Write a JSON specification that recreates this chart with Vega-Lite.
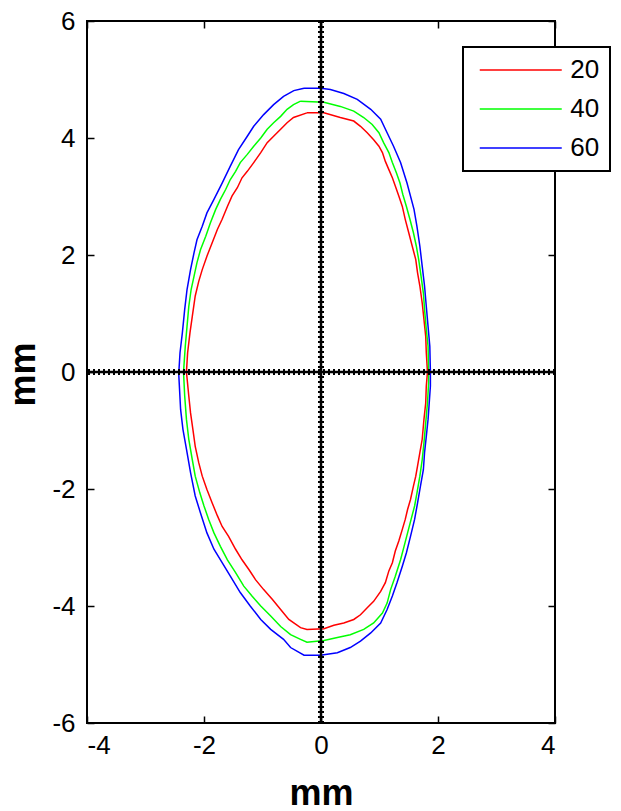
{
  "$schema": "https://vega.github.io/schema/vega-lite/v6.json",
  "width": 468,
  "height": 702,
  "autosize": {"type": "none"},
  "padding": {"left": 87, "top": 21, "right": 66, "bottom": 88},
  "background": "white",
  "config": {
    "view": {"stroke": "black", "strokeWidth": 2},
    "legend": {"strokeWidth": 2},
    "axis": {
      "grid": false,
      "domain": false,
      "tickColor": "black",
      "tickWidth": 1.5,
      "tickSize": -7,
      "labelColor": "black",
      "labelFont": "'Liberation Sans Narrow', 'Liberation Sans'",
      "labelFontSize": 26,
      "titleFont": "Liberation Sans",
      "titleFontWeight": "bold",
      "titleFontSize": 36,
      "titleColor": "black"
    }
  },
  "resolve": {"axis": {"x": "independent", "y": "independent"}},
  "layer": [
    {
      "data": {
        "values": [
          {"s":"20","i":1,"x":-0.24,"y":4.43},{"s":"20","i":2,"x":0.05,"y":4.43},{"s":"20","i":3,"x":0.33,"y":4.35},{"s":"20","i":4,"x":0.56,"y":4.29},{"s":"20","i":5,"x":0.675,"y":4.2},{"s":"20","i":6,"x":0.79,"y":4.09},{"s":"20","i":7,"x":0.9,"y":3.97},{"s":"20","i":8,"x":0.99,"y":3.86},{"s":"20","i":9,"x":1.05,"y":3.75},{"s":"20","i":10,"x":1.1,"y":3.6},{"s":"20","i":11,"x":1.16,"y":3.46},{"s":"20","i":12,"x":1.22,"y":3.32},{"s":"20","i":13,"x":1.27,"y":3.18},{"s":"20","i":14,"x":1.33,"y":3.01},{"s":"20","i":15,"x":1.39,"y":2.83},{"s":"20","i":16,"x":1.44,"y":2.61},{"s":"20","i":17,"x":1.5,"y":2.38},{"s":"20","i":18,"x":1.56,"y":2.15},{"s":"20","i":19,"x":1.62,"y":1.92},{"s":"20","i":20,"x":1.65,"y":1.7},{"s":"20","i":21,"x":1.69,"y":1.47},{"s":"20","i":22,"x":1.73,"y":1.18},{"s":"20","i":23,"x":1.76,"y":0.9},{"s":"20","i":24,"x":1.79,"y":0.61},{"s":"20","i":25,"x":1.8,"y":0.33},{"s":"20","i":26,"x":1.82,"y":0},{"s":"20","i":27,"x":1.8,"y":-0.24},{"s":"20","i":28,"x":1.79,"y":-0.53},{"s":"20","i":29,"x":1.76,"y":-0.81},{"s":"20","i":30,"x":1.73,"y":-1.15},{"s":"20","i":31,"x":1.69,"y":-1.38},{"s":"20","i":32,"x":1.65,"y":-1.61},{"s":"20","i":33,"x":1.62,"y":-1.78},{"s":"20","i":34,"x":1.58,"y":-1.95},{"s":"20","i":35,"x":1.53,"y":-2.18},{"s":"20","i":36,"x":1.48,"y":-2.35},{"s":"20","i":37,"x":1.44,"y":-2.52},{"s":"20","i":38,"x":1.39,"y":-2.69},{"s":"20","i":39,"x":1.33,"y":-2.89},{"s":"20","i":40,"x":1.27,"y":-3.06},{"s":"20","i":41,"x":1.22,"y":-3.26},{"s":"20","i":42,"x":1.16,"y":-3.4},{"s":"20","i":43,"x":1.1,"y":-3.6},{"s":"20","i":44,"x":1.02,"y":-3.75},{"s":"20","i":45,"x":0.9,"y":-3.92},{"s":"20","i":46,"x":0.79,"y":-4.03},{"s":"20","i":47,"x":0.675,"y":-4.15},{"s":"20","i":48,"x":0.56,"y":-4.23},{"s":"20","i":49,"x":0.39,"y":-4.29},{"s":"20","i":50,"x":0.22,"y":-4.33},{"s":"20","i":51,"x":0.05,"y":-4.39},{"s":"20","i":52,"x":-0.24,"y":-4.4},{"s":"20","i":53,"x":-0.35,"y":-4.37},{"s":"20","i":54,"x":-0.55,"y":-4.23},{"s":"20","i":55,"x":-0.69,"y":-4.06},{"s":"20","i":56,"x":-0.83,"y":-3.89},{"s":"20","i":57,"x":-0.98,"y":-3.72},{"s":"20","i":58,"x":-1.12,"y":-3.55},{"s":"20","i":59,"x":-1.23,"y":-3.38},{"s":"20","i":60,"x":-1.35,"y":-3.21},{"s":"20","i":61,"x":-1.46,"y":-3.03},{"s":"20","i":62,"x":-1.58,"y":-2.81},{"s":"20","i":63,"x":-1.69,"y":-2.64},{"s":"20","i":64,"x":-1.77,"y":-2.46},{"s":"20","i":65,"x":-1.86,"y":-2.24},{"s":"20","i":66,"x":-1.95,"y":-2.01},{"s":"20","i":67,"x":-2.03,"y":-1.78},{"s":"20","i":68,"x":-2.09,"y":-1.55},{"s":"20","i":69,"x":-2.15,"y":-1.27},{"s":"20","i":70,"x":-2.19,"y":-0.98},{"s":"20","i":71,"x":-2.23,"y":-0.7},{"s":"20","i":72,"x":-2.26,"y":-0.41},{"s":"20","i":73,"x":-2.3,"y":0},{"s":"20","i":74,"x":-2.28,"y":0.33},{"s":"20","i":75,"x":-2.24,"y":0.67},{"s":"20","i":76,"x":-2.2,"y":0.95},{"s":"20","i":77,"x":-2.15,"y":1.3},{"s":"20","i":78,"x":-2.09,"y":1.55},{"s":"20","i":79,"x":-2.03,"y":1.75},{"s":"20","i":80,"x":-1.95,"y":1.98},{"s":"20","i":81,"x":-1.86,"y":2.21},{"s":"20","i":82,"x":-1.77,"y":2.44},{"s":"20","i":83,"x":-1.69,"y":2.61},{"s":"20","i":84,"x":-1.6,"y":2.83},{"s":"20","i":85,"x":-1.52,"y":3.01},{"s":"20","i":86,"x":-1.43,"y":3.15},{"s":"20","i":87,"x":-1.35,"y":3.32},{"s":"20","i":88,"x":-1.26,"y":3.43},{"s":"20","i":89,"x":-1.15,"y":3.58},{"s":"20","i":90,"x":-1.03,"y":3.75},{"s":"20","i":91,"x":-0.92,"y":3.92},{"s":"20","i":92,"x":-0.81,"y":4.03},{"s":"20","i":93,"x":-0.69,"y":4.15},{"s":"20","i":94,"x":-0.58,"y":4.26},{"s":"20","i":95,"x":-0.47,"y":4.35},{"s":"20","i":96,"x":-0.24,"y":4.43},

          {"s":"40","i":1,"x":-0.35,"y":4.63},{"s":"40","i":2,"x":0.05,"y":4.61},{"s":"40","i":3,"x":0.33,"y":4.54},{"s":"40","i":4,"x":0.56,"y":4.46},{"s":"40","i":5,"x":0.73,"y":4.35},{"s":"40","i":6,"x":0.875,"y":4.23},{"s":"40","i":7,"x":0.99,"y":4.09},{"s":"40","i":8,"x":1.07,"y":3.92},{"s":"40","i":9,"x":1.16,"y":3.75},{"s":"40","i":10,"x":1.22,"y":3.58},{"s":"40","i":11,"x":1.29,"y":3.4},{"s":"40","i":12,"x":1.35,"y":3.23},{"s":"40","i":13,"x":1.4,"y":3.03},{"s":"40","i":14,"x":1.46,"y":2.83},{"s":"40","i":15,"x":1.52,"y":2.61},{"s":"40","i":16,"x":1.58,"y":2.38},{"s":"40","i":17,"x":1.63,"y":2.15},{"s":"40","i":18,"x":1.67,"y":1.92},{"s":"40","i":19,"x":1.71,"y":1.64},{"s":"40","i":20,"x":1.75,"y":1.35},{"s":"40","i":21,"x":1.77,"y":1.07},{"s":"40","i":22,"x":1.8,"y":0.73},{"s":"40","i":23,"x":1.83,"y":0.44},{"s":"40","i":24,"x":1.84,"y":0},{"s":"40","i":25,"x":1.84,"y":-0.18},{"s":"40","i":26,"x":1.82,"y":-0.53},{"s":"40","i":27,"x":1.79,"y":-0.87},{"s":"40","i":28,"x":1.76,"y":-1.21},{"s":"40","i":29,"x":1.73,"y":-1.5},{"s":"40","i":30,"x":1.69,"y":-1.78},{"s":"40","i":31,"x":1.64,"y":-2.07},{"s":"40","i":32,"x":1.6,"y":-2.29},{"s":"40","i":33,"x":1.54,"y":-2.52},{"s":"40","i":34,"x":1.48,"y":-2.75},{"s":"40","i":35,"x":1.42,"y":-2.98},{"s":"40","i":36,"x":1.36,"y":-3.21},{"s":"40","i":37,"x":1.27,"y":-3.49},{"s":"40","i":38,"x":1.19,"y":-3.72},{"s":"40","i":39,"x":1.13,"y":-3.95},{"s":"40","i":40,"x":1.05,"y":-4.12},{"s":"40","i":41,"x":0.9,"y":-4.29},{"s":"40","i":42,"x":0.73,"y":-4.4},{"s":"40","i":43,"x":0.5,"y":-4.49},{"s":"40","i":44,"x":0.28,"y":-4.54},{"s":"40","i":45,"x":0.05,"y":-4.59},{"s":"40","i":46,"x":-0.24,"y":-4.62},{"s":"40","i":47,"x":-0.35,"y":-4.57},{"s":"40","i":48,"x":-0.52,"y":-4.49},{"s":"40","i":49,"x":-0.69,"y":-4.35},{"s":"40","i":50,"x":-0.86,"y":-4.17},{"s":"40","i":51,"x":-1.03,"y":-4.0},{"s":"40","i":52,"x":-1.18,"y":-3.83},{"s":"40","i":53,"x":-1.32,"y":-3.66},{"s":"40","i":54,"x":-1.46,"y":-3.43},{"s":"40","i":55,"x":-1.6,"y":-3.21},{"s":"40","i":56,"x":-1.72,"y":-2.98},{"s":"40","i":57,"x":-1.83,"y":-2.75},{"s":"40","i":58,"x":-1.92,"y":-2.52},{"s":"40","i":59,"x":-2.0,"y":-2.29},{"s":"40","i":60,"x":-2.07,"y":-2.07},{"s":"40","i":61,"x":-2.15,"y":-1.78},{"s":"40","i":62,"x":-2.2,"y":-1.5},{"s":"40","i":63,"x":-2.26,"y":-1.15},{"s":"40","i":64,"x":-2.3,"y":-0.81},{"s":"40","i":65,"x":-2.33,"y":-0.41},{"s":"40","i":66,"x":-2.35,"y":0},{"s":"40","i":67,"x":-2.32,"y":0.44},{"s":"40","i":68,"x":-2.29,"y":0.78},{"s":"40","i":69,"x":-2.26,"y":1.12},{"s":"40","i":70,"x":-2.22,"y":1.41},{"s":"40","i":71,"x":-2.17,"y":1.64},{"s":"40","i":72,"x":-2.12,"y":1.87},{"s":"40","i":73,"x":-2.06,"y":2.09},{"s":"40","i":74,"x":-1.97,"y":2.32},{"s":"40","i":75,"x":-1.89,"y":2.55},{"s":"40","i":76,"x":-1.8,"y":2.78},{"s":"40","i":77,"x":-1.72,"y":2.95},{"s":"40","i":78,"x":-1.63,"y":3.12},{"s":"40","i":79,"x":-1.55,"y":3.29},{"s":"40","i":80,"x":-1.46,"y":3.43},{"s":"40","i":81,"x":-1.38,"y":3.58},{"s":"40","i":82,"x":-1.26,"y":3.72},{"s":"40","i":83,"x":-1.15,"y":3.86},{"s":"40","i":84,"x":-1.03,"y":4.0},{"s":"40","i":85,"x":-0.92,"y":4.15},{"s":"40","i":86,"x":-0.81,"y":4.26},{"s":"40","i":87,"x":-0.69,"y":4.37},{"s":"40","i":88,"x":-0.58,"y":4.49},{"s":"40","i":89,"x":-0.47,"y":4.57},{"s":"40","i":90,"x":-0.35,"y":4.63},

          {"s":"60","i":1,"x":-0.29,"y":4.85},{"s":"60","i":2,"x":0.0,"y":4.85},{"s":"60","i":3,"x":0.16,"y":4.83},{"s":"60","i":4,"x":0.39,"y":4.76},{"s":"60","i":5,"x":0.62,"y":4.66},{"s":"60","i":6,"x":0.85,"y":4.49},{"s":"60","i":7,"x":1.02,"y":4.32},{"s":"60","i":8,"x":1.13,"y":4.09},{"s":"60","i":9,"x":1.24,"y":3.86},{"s":"60","i":10,"x":1.36,"y":3.58},{"s":"60","i":11,"x":1.47,"y":3.23},{"s":"60","i":12,"x":1.59,"y":2.78},{"s":"60","i":13,"x":1.64,"y":2.49},{"s":"60","i":14,"x":1.69,"y":2.15},{"s":"60","i":15,"x":1.73,"y":1.81},{"s":"60","i":16,"x":1.77,"y":1.47},{"s":"60","i":17,"x":1.8,"y":1.12},{"s":"60","i":18,"x":1.83,"y":0.78},{"s":"60","i":19,"x":1.86,"y":0.44},{"s":"60","i":20,"x":1.87,"y":0},{"s":"60","i":21,"x":1.87,"y":-0.24},{"s":"60","i":22,"x":1.85,"y":-0.53},{"s":"60","i":23,"x":1.83,"y":-0.81},{"s":"60","i":24,"x":1.8,"y":-1.1},{"s":"60","i":25,"x":1.77,"y":-1.38},{"s":"60","i":26,"x":1.75,"y":-1.67},{"s":"60","i":27,"x":1.7,"y":-1.95},{"s":"60","i":28,"x":1.65,"y":-2.24},{"s":"60","i":29,"x":1.6,"y":-2.52},{"s":"60","i":30,"x":1.53,"y":-2.81},{"s":"60","i":31,"x":1.46,"y":-3.09},{"s":"60","i":32,"x":1.39,"y":-3.32},{"s":"60","i":33,"x":1.3,"y":-3.6},{"s":"60","i":34,"x":1.22,"y":-3.83},{"s":"60","i":35,"x":1.13,"y":-4.06},{"s":"60","i":36,"x":1.02,"y":-4.29},{"s":"60","i":37,"x":0.85,"y":-4.46},{"s":"60","i":38,"x":0.675,"y":-4.6},{"s":"60","i":39,"x":0.5,"y":-4.71},{"s":"60","i":40,"x":0.28,"y":-4.8},{"s":"60","i":41,"x":-0.01,"y":-4.84},{"s":"60","i":42,"x":-0.29,"y":-4.84},{"s":"60","i":43,"x":-0.52,"y":-4.71},{"s":"60","i":44,"x":-0.64,"y":-4.57},{"s":"60","i":45,"x":-0.86,"y":-4.4},{"s":"60","i":46,"x":-1.03,"y":-4.23},{"s":"60","i":47,"x":-1.21,"y":-4.0},{"s":"60","i":48,"x":-1.38,"y":-3.77},{"s":"60","i":49,"x":-1.55,"y":-3.49},{"s":"60","i":50,"x":-1.69,"y":-3.26},{"s":"60","i":51,"x":-1.83,"y":-3.03},{"s":"60","i":52,"x":-1.95,"y":-2.75},{"s":"60","i":53,"x":-2.06,"y":-2.41},{"s":"60","i":54,"x":-2.15,"y":-2.12},{"s":"60","i":55,"x":-2.23,"y":-1.72},{"s":"60","i":56,"x":-2.3,"y":-1.32},{"s":"60","i":57,"x":-2.36,"y":-0.98},{"s":"60","i":58,"x":-2.4,"y":-0.64},{"s":"60","i":59,"x":-2.43,"y":-0.07},{"s":"60","i":60,"x":-2.43,"y":0},{"s":"60","i":61,"x":-2.41,"y":0.33},{"s":"60","i":62,"x":-2.37,"y":0.67},{"s":"60","i":63,"x":-2.33,"y":1.07},{"s":"60","i":64,"x":-2.29,"y":1.41},{"s":"60","i":65,"x":-2.23,"y":1.75},{"s":"60","i":66,"x":-2.17,"y":2.04},{"s":"60","i":67,"x":-2.12,"y":2.26},{"s":"60","i":68,"x":-2.03,"y":2.49},{"s":"60","i":69,"x":-1.95,"y":2.72},{"s":"60","i":70,"x":-1.83,"y":2.95},{"s":"60","i":71,"x":-1.69,"y":3.23},{"s":"60","i":72,"x":-1.55,"y":3.52},{"s":"60","i":73,"x":-1.41,"y":3.8},{"s":"60","i":74,"x":-1.26,"y":4.03},{"s":"60","i":75,"x":-1.15,"y":4.2},{"s":"60","i":76,"x":-0.98,"y":4.4},{"s":"60","i":77,"x":-0.81,"y":4.57},{"s":"60","i":78,"x":-0.64,"y":4.71},{"s":"60","i":79,"x":-0.465,"y":4.81},{"s":"60","i":80,"x":-0.29,"y":4.85}
        ]
      },
      "mark": {"type": "line", "strokeWidth": 1.5},
      "encoding": {
        "x": {
          "field": "x", "type": "quantitative",
          "scale": {"domain": [-4, 4], "nice": false},
          "axis": {
            "orient": "bottom",
            "values": [-4, -2, 0, 2, 4],
            "labelExpr": "datum.value < 0 ? '-' + abs(datum.value) : '' + datum.value",
            "labelPadding": 16,
            "title": "mm",
            "titleX": 234,
            "titleY": 81,
            "titleAlign": "center",
            "titleBaseline": "alphabetic"
          }
        },
        "y": {
          "field": "y", "type": "quantitative",
          "scale": {"domain": [-6, 6], "nice": false},
          "axis": {
            "orient": "left",
            "values": [-6, -4, -2, 0, 2, 4, 6],
            "labelExpr": "datum.value < 0 ? '-' + abs(datum.value) : '' + datum.value",
            "labelPadding": 19,
            "title": "mm",
            "titleX": -53,
            "titleY": 353,
            "titleAlign": "center",
            "titleBaseline": "alphabetic"
          }
        },
        "color": {
          "field": "s", "type": "nominal",
          "scale": {"domain": ["20", "40", "60"], "range": ["#ff0000", "#00ff00", "#0000ff"]},
          "legend": {
            "orient": "none",
            "legendX": 376,
            "legendY": 26,
            "title": null,
            "symbolType": "M-4,0H4",
            "symbolSize": 420.25,
            "symbolStrokeWidth": 1.5,
            "symbolOffset": 34.75,
            "labelOffset": 36.5,
            "labelFont": "'Liberation Sans Narrow', 'Liberation Sans'",
            "labelFontSize": 26,
            "labelColor": "black",
            "rowPadding": 13,
            "padding": 10,
            "fillColor": "white",
            "strokeColor": "black"
          }
        },
        "order": {"field": "i", "type": "quantitative"}
      }
    },
    {
      "data": {"values": [{}]},
      "mark": {"type": "rule", "color": "black", "strokeWidth": 2.5},
      "encoding": {
        "x": {
          "datum": 0, "type": "quantitative",
          "scale": {"domain": [-4, 4], "nice": false},
          "axis": {"orient": "top", "values": [-4, -2, 0, 2, 4], "labels": false, "title": null}
        }
      }
    },
    {
      "data": {"values": [{}]},
      "mark": {"type": "rule", "color": "black", "strokeWidth": 6, "strokeDash": [2, 3]},
      "encoding": {
        "x": {"datum": 0, "type": "quantitative", "scale": {"domain": [-4, 4], "nice": false}, "axis": null}
      }
    },
    {
      "data": {"values": [{}]},
      "mark": {"type": "rule", "color": "black", "strokeWidth": 2.5},
      "encoding": {
        "y": {
          "datum": 0, "type": "quantitative",
          "scale": {"domain": [-6, 6], "nice": false},
          "axis": {"orient": "right", "values": [-6, -4, -2, 0, 2, 4, 6], "labels": false, "title": null}
        }
      }
    },
    {
      "data": {"values": [{}]},
      "mark": {"type": "rule", "color": "black", "strokeWidth": 6, "strokeDash": [2, 3]},
      "encoding": {
        "y": {"datum": 0, "type": "quantitative", "scale": {"domain": [-6, 6], "nice": false}, "axis": null}
      }
    }
  ]
}
